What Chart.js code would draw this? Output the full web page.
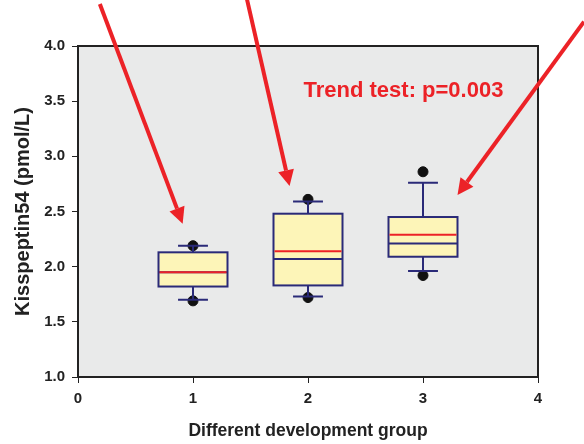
<!DOCTYPE html>
<html>
<head>
<meta charset="utf-8">
<script src="https://cdn.jsdelivr.net/npm/chart.js@4"></script>
<style>
html,body{margin:0;padding:0;background:#fff;}
#wrap{width:584px;height:444px;}
</style>
</head>
<body>
<div id="wrap"><canvas id="boxChart"></canvas></div>
<script>

// DATA

const groups = [1, 2, 3];
const q1 = [1.82, 1.83, 2.09];
const q3 = [2.13, 2.48, 2.45];
const medians = [1.95, 2.07, 2.21];
const means = [1.95, 2.14, 2.29];
const whiskerLow = [1.70, 1.73, 1.96];
const whiskerHigh = [2.19, 2.59, 2.76];
const outliers = [
  {x:1, y:2.19}, {x:1, y:1.69},
  {x:2, y:2.61}, {x:2, y:1.72},
  {x:3, y:2.86}, {x:3, y:1.92}
];
const xTicks = [0, 1, 2, 3, 4];
const yTicks = [1.0, 1.5, 2.0, 2.5, 3.0, 3.5, 4.0];

// arrows: [tailX, tailY, tipX, tipY] in data units
const arrows = [
  [0.19, 4.38, 0.91, 2.39],
  [1.47, 4.42, 1.84, 2.73],
  [4.40, 4.22, 3.30, 2.65]
];

const boxWidth = 0.6;
const capWidth = 0.26;


// BOX PLOT PLUGIN

const boxPlugin = {
  id: "boxPlugin",
  beforeDraw(chart){
    const {ctx, chartArea:a} = chart;
    ctx.save();
    ctx.fillStyle = "#e9eaea";
    ctx.fillRect(a.left, a.top, a.right-a.left, a.bottom-a.top);
    ctx.restore();
  },
  afterDatasetsDraw(chart){
    const {ctx, scales:{x, y}} = chart;
    ctx.save();
    groups.forEach((g, i) => {
      const xl = x.getPixelForValue(g - boxWidth/2);
      const xr = x.getPixelForValue(g + boxWidth/2);
      const xc = x.getPixelForValue(g);
      const cl = x.getPixelForValue(g - capWidth/2);
      const cr = x.getPixelForValue(g + capWidth/2);
      const yTop = y.getPixelForValue(q3[i]);
      const yBot = y.getPixelForValue(q1[i]);
      const yHi = y.getPixelForValue(whiskerHigh[i]);
      const yLo = y.getPixelForValue(whiskerLow[i]);

      ctx.strokeStyle = "#2a2a78";
      ctx.lineWidth = 2;
      // whiskers
      ctx.beginPath();
      ctx.moveTo(xc, yTop); ctx.lineTo(xc, yHi);
      ctx.moveTo(xc, yBot); ctx.lineTo(xc, yLo);
      ctx.moveTo(cl, yHi); ctx.lineTo(cr, yHi);
      ctx.moveTo(cl, yLo); ctx.lineTo(cr, yLo);
      ctx.stroke();

      // box
      ctx.fillStyle = "#fdf5b8";
      ctx.fillRect(xl, yTop, xr-xl, yBot-yTop);
      ctx.strokeRect(xl, yTop, xr-xl, yBot-yTop);

      // median
      ctx.beginPath();
      ctx.moveTo(xl, y.getPixelForValue(medians[i]));
      ctx.lineTo(xr, y.getPixelForValue(medians[i]));
      ctx.stroke();

      // mean
      ctx.strokeStyle = "#ec2227";
      ctx.beginPath();
      ctx.moveTo(xl+1, y.getPixelForValue(means[i]));
      ctx.lineTo(xr-1, y.getPixelForValue(means[i]));
      ctx.stroke();
    });
    ctx.restore();
  },
  afterDraw(chart){
    const {ctx, chartArea:a, scales:{x, y}} = chart;
    ctx.save();
    // frame
    ctx.strokeStyle = "#222";
    ctx.lineWidth = 2;
    ctx.strokeRect(a.left, a.top, a.right-a.left, a.bottom-a.top);

    // trend text
    ctx.fillStyle = "#ec2227";
    ctx.font = "bold 22px 'Liberation Sans', Arial, sans-serif";
    ctx.textAlign = "center";
    ctx.textBaseline = "middle";
    ctx.fillText("Trend test: p=0.003", x.getPixelForValue(2.83), y.getPixelForValue(3.59));

    // arrows
    ctx.strokeStyle = "#ec2227";
    ctx.fillStyle = "#ec2227";
    ctx.lineWidth = 4;
    arrows.forEach(([x0, y0, x1, y1]) => {
      const px0 = x.getPixelForValue(x0), py0 = y.getPixelForValue(y0);
      const px1 = x.getPixelForValue(x1), py1 = y.getPixelForValue(y1);
      const ang = Math.atan2(py1-py0, px1-px0);
      const head = 16, half = 8;
      const bx = px1 - head*Math.cos(ang), by = py1 - head*Math.sin(ang);
      ctx.beginPath();
      ctx.moveTo(px0, py0); ctx.lineTo(bx, by);
      ctx.stroke();
      ctx.beginPath();
      ctx.moveTo(px1, py1);
      ctx.lineTo(bx + half*Math.sin(ang), by - half*Math.cos(ang));
      ctx.lineTo(bx - half*Math.sin(ang), by + half*Math.cos(ang));
      ctx.closePath();
      ctx.fill();
    });
    ctx.restore();
  }
};


// CHART

const tickFont = {family:"'Liberation Sans', Arial", weight:"bold", size:15};

new Chart(
document.getElementById("boxChart"),
{
type:"scatter",
data:{
datasets:[{
label:"Outliers",
data:outliers,
backgroundColor:"#111",
borderColor:"#111",
pointRadius:5,
pointHoverRadius:5
}]
},
options:{
responsive:true,
maintainAspectRatio:false,
animation:false,
layout:{padding:{left:0, right:46, top:46, bottom:0}},
plugins:{legend:{display:false}, tooltip:{enabled:false}},
scales:{
x:{
type:"linear",
min:0, max:4,
afterBuildTicks:s => { s.ticks = xTicks.map(v => ({value:v})); },
afterFit:s => { s.height = 67; },
grid:{drawOnChartArea:false, drawTicks:true, tickLength:6, color:"#222"},
border:{display:false},
ticks:{color:"#222", font:tickFont, padding:7, maxRotation:0},
title:{display:true, text:"Different development group", color:"#222", font:{family:"'Liberation Sans', Arial", weight:"bold", size:17.5}, padding:{top:4, bottom:2}}
},
y:{
min:1, max:4,
afterBuildTicks:s => { s.ticks = yTicks.map(v => ({value:v})); },
afterFit:s => { s.width = 78; },
grid:{drawOnChartArea:false, drawTicks:true, tickLength:6, color:"#222"},
border:{display:false},
ticks:{color:"#222", font:tickFont, padding:7, callback:v => v.toFixed(1)},
title:{display:true, text:"Kisspeptin54 (pmol/L)", color:"#222", font:{family:"'Liberation Sans', Arial", weight:"bold", size:20}, padding:{top:11, bottom:0}}
}
}
},
plugins:[boxPlugin]
});
</script>
</body>
</html>
